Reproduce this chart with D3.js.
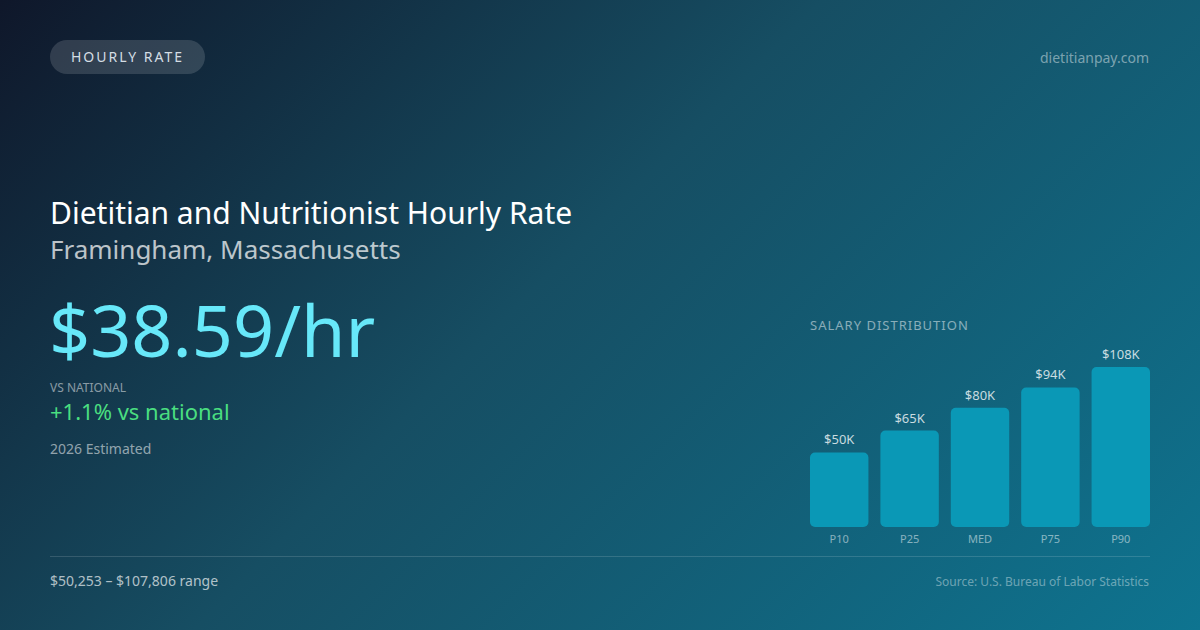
<!DOCTYPE html>
<html>
<head>
<meta charset="utf-8">
<script src="https://cdn.jsdelivr.net/npm/d3@7"></script>
<style>
  html, body { margin: 0; padding: 0; background: #0f172a; }
  svg { display: block; font-family: "Noto Sans", "Open Sans", sans-serif; }
</style>
</head>
<body>
<div id="card"></div>
<script>
// values
const percentiles = ['P10', 'P25', 'MED', 'P75', 'P90'];
const salaries = [50253, 65000, 80267, 94000, 107806];
const hourlyRate = 38.59;
const vsNational = 1.1;
const estimateYear = 2026;

const width = 1200;
const height = 630;

const svg = d3.select('#card')
  .append('svg')
  .attr('width', width)
  .attr('height', height)
  .attr('viewBox', `0 0 ${width} ${height}`);

// background gradient, like a css 135deg gradient
const defs = svg.append('defs');
const bg = defs.append('linearGradient')
  .attr('id', 'bg')
  .attr('gradientUnits', 'userSpaceOnUse')
  .attr('x1', 142.5).attr('y1', -142.5)
  .attr('x2', 1057.5).attr('y2', 772.5);
bg.append('stop').attr('offset', '0%').attr('stop-color', '#0f172a');
bg.append('stop').attr('offset', '45%').attr('stop-color', '#164e63');
bg.append('stop').attr('offset', '100%').attr('stop-color', '#0e7490');

svg.append('rect')
  .attr('width', width)
  .attr('height', height)
  .attr('fill', 'url(#bg)');

// pill badge
svg.append('rect')
  .attr('x', 50).attr('y', 40)
  .attr('width', 155).attr('height', 34)
  .attr('rx', 17)
  .attr('fill', 'rgba(255,255,255,0.14)');

svg.append('text')
  .attr('x', 127.5).attr('y', 62)
  .attr('text-anchor', 'middle')
  .attr('font-size', 14)
  .attr('letter-spacing', 2)
  .attr('fill', '#d4dde4')
  .text('HOURLY RATE');

svg.append('text')
  .attr('x', 1149).attr('y', 63)
  .attr('text-anchor', 'end')
  .attr('font-size', 14)
  .attr('fill', 'rgba(255,255,255,0.45)')
  .text('dietitianpay.com');

// headline block
svg.append('text')
  .attr('x', 50).attr('y', 224)
  .attr('font-size', 30)
  .attr('fill', '#ffffff')
  .text('Dietitian and Nutritionist Hourly Rate');

svg.append('text')
  .attr('x', 50).attr('y', 259)
  .attr('font-size', 26)
  .attr('fill', 'rgba(255,255,255,0.72)')
  .text('Framingham, Massachusetts');

svg.append('text')
  .attr('x', 49).attr('y', 357)
  .attr('font-size', 72)
  .attr('fill', '#67e8f9')
  .text(`$${hourlyRate.toFixed(2)}/hr`);

svg.append('text')
  .attr('x', 50).attr('y', 392)
  .attr('font-size', 12)
  .attr('fill', 'rgba(255,255,255,0.5)')
  .text('VS NATIONAL');

svg.append('text')
  .attr('x', 50).attr('y', 420)
  .attr('font-size', 22)
  .attr('fill', '#4ade80')
  .text(`+${vsNational.toFixed(1)}% vs national`);

svg.append('text')
  .attr('x', 50).attr('y', 454)
  .attr('font-size', 14)
  .attr('fill', 'rgba(255,255,255,0.55)')
  .text(`${estimateYear} Estimated`);

// salary distribution chart
const chart = { left: 810, right: 1150, top: 367, bottom: 527 };

svg.append('text')
  .attr('x', chart.left).attr('y', 330)
  .attr('font-size', 13)
  .attr('letter-spacing', 1)
  .attr('fill', 'rgba(255,255,255,0.5)')
  .text('SALARY DISTRIBUTION');

const xScale = d3.scaleBand()
  .domain(percentiles)
  .range([chart.left, chart.right])
  .paddingInner(0.17)
  .paddingOuter(0);

const yScale = d3.scaleLinear()
  .domain([0, d3.max(salaries)])
  .range([chart.bottom, chart.top]);

const rows = percentiles.map((p, i) => ({ label: p, value: salaries[i] }));
const fmtK = (v) => `$${Math.round(v / 1000)}K`;

const bars = svg.append('g').attr('class', 'bars');

bars.selectAll('rect')
  .data(rows)
  .join('rect')
  .attr('x', (d) => xScale(d.label))
  .attr('y', (d) => yScale(d.value))
  .attr('width', xScale.bandwidth())
  .attr('height', (d) => chart.bottom - yScale(d.value))
  .attr('rx', 5)
  .attr('fill', '#0a98b6');

bars.selectAll('text.value')
  .data(rows)
  .join('text')
  .attr('class', 'value')
  .attr('x', (d) => xScale(d.label) + xScale.bandwidth() / 2)
  .attr('y', (d) => yScale(d.value) - 8)
  .attr('text-anchor', 'middle')
  .attr('font-size', 13)
  .attr('fill', 'rgba(255,255,255,0.78)')
  .text((d) => fmtK(d.value));

const xAxis = svg.append('g')
  .attr('transform', `translate(0, ${chart.bottom})`)
  .call(d3.axisBottom(xScale).tickSize(0).tickPadding(8));
xAxis.select('.domain').remove();
xAxis.selectAll('text')
  .attr('font-family', '"Noto Sans", sans-serif')
  .attr('font-size', 11)
  .attr('fill', 'rgba(255,255,255,0.5)');

// footer
svg.append('line')
  .attr('x1', 50).attr('x2', 1150)
  .attr('y1', 556.5).attr('y2', 556.5)
  .attr('stroke', 'rgba(255,255,255,0.14)')
  .attr('stroke-width', 1);

const fmtUsd = d3.format('$,');
svg.append('text')
  .attr('x', 50).attr('y', 586)
  .attr('font-size', 14)
  .attr('fill', 'rgba(255,255,255,0.68)')
  .text(`${fmtUsd(salaries[0])} – ${fmtUsd(salaries[salaries.length - 1])} range`);

svg.append('text')
  .attr('x', 1149).attr('y', 586)
  .attr('text-anchor', 'end')
  .attr('font-size', 12)
  .attr('fill', 'rgba(255,255,255,0.4)')
  .text('Source: U.S. Bureau of Labor Statistics');
</script>
</body>
</html>
